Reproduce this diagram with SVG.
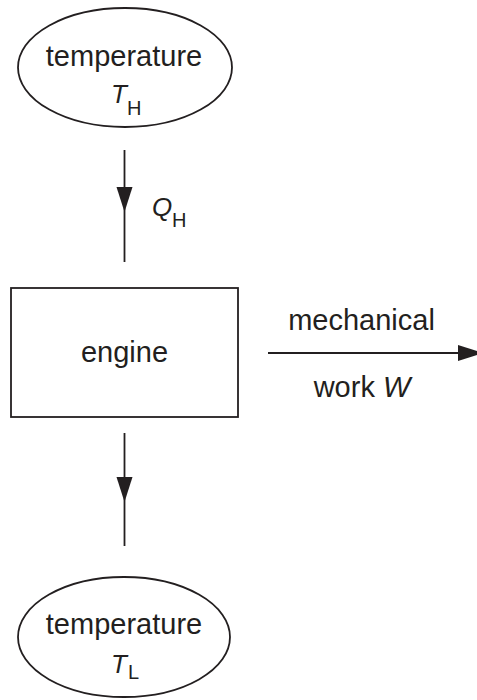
<svg xmlns="http://www.w3.org/2000/svg" width="477" height="700" viewBox="0 0 477 700">
  <style>
    .shape { fill: none; stroke: #231f20; stroke-width: 1.8; }
    .line { fill: none; stroke: #231f20; stroke-width: 1.8; }
    .lbl { font-family: "Liberation Sans", Arial, sans-serif; font-size: 29px; fill: #231f20; }
    .var { font-family: "Liberation Sans", Arial, sans-serif; font-size: 26px; font-style: italic; fill: #231f20; }
    .sub { font-family: "Liberation Sans", Arial, sans-serif; font-size: 20px; fill: #231f20; }
  </style>
  <defs>
    <marker id="ah" markerUnits="userSpaceOnUse" markerWidth="26" markerHeight="18" refX="25" refY="8" orient="auto">
      <path d="M0,0 L25,8 L0,16 Z" fill="#231f20"/>
    </marker>
    <marker id="ahm" markerUnits="userSpaceOnUse" markerWidth="26" markerHeight="18" refX="25" refY="8" orient="auto">
      <path d="M0,0 L25,8 L0,16 Z" fill="#231f20"/>
    </marker>
  </defs>
  <rect width="477" height="700" fill="#ffffff"/>

  <g id="hot-reservoir">
    <ellipse class="shape" cx="125" cy="67.5" rx="107" ry="59.5"/>
    <text class="lbl" x="124" y="66" text-anchor="middle">temperature</text>
    <text class="var" x="111" y="103">T</text>
    <text class="sub" x="127" y="115">H</text>
  </g>

  <g id="engine">
    <rect class="shape" x="11" y="288" width="227" height="129"/>
    <text class="lbl" x="124.5" y="362" text-anchor="middle">engine</text>
  </g>

  <g id="cold-reservoir">
    <ellipse class="shape" cx="124" cy="637" rx="106" ry="60"/>
    <text class="lbl" x="124" y="634" text-anchor="middle">temperature</text>
    <text class="var" x="111" y="673">T</text>
    <text class="sub" x="128" y="679">L</text>
  </g>

  <g id="connectors">
    <path class="line" d="M124.5,150 L124.5,212 L124.5,262" marker-mid="url(#ahm)"/>
    <text class="var" x="152" y="216">Q</text>
    <text class="sub" x="172" y="227">H</text>

    <path class="line" d="M124.5,433 L124.5,502 L124.5,546" marker-mid="url(#ahm)"/>

    <path class="line" d="M268,353 L483,353" marker-end="url(#ah)"/>
    <text class="lbl" x="361.5" y="330" text-anchor="middle">mechanical</text>
    <text class="lbl" x="362" y="397" text-anchor="middle">work <tspan font-style="italic">W</tspan></text>
  </g>
</svg>
